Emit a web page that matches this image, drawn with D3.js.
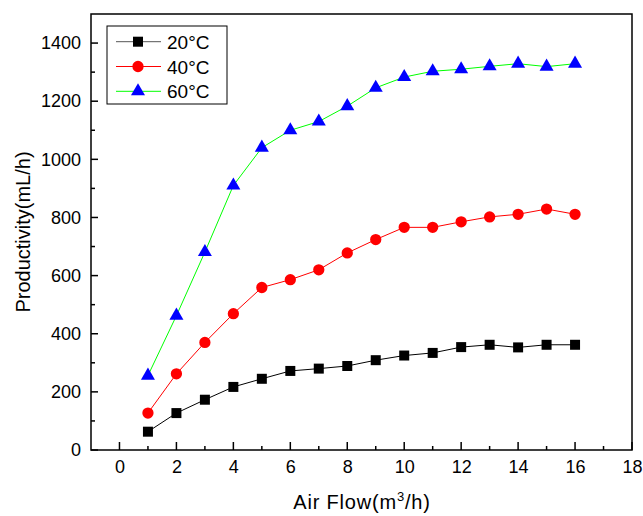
<!DOCTYPE html>
<html><head><meta charset="utf-8">
<script src="https://cdn.jsdelivr.net/npm/d3@7/dist/d3.min.js"></script>
<style>body{margin:0;background:#fff}svg{display:block}text{font-family:"Liberation Sans",Arial,sans-serif}</style>
</head><body><svg id="c" width="643" height="516"></svg>
<script>
const airFlow = [1,2,3,4,5,6,7,8,9,10,11,12,13,14,15,16];
const t20 = [63,127,173,217,245,272,280,289,309,325,334,354,362,353,362,362];
const t40 = [127,262,370,469,559,586,620,678,724,766,766,785,802,811,829,811];
const t60 = [256,462,681,910,1040,1100,1130,1183,1246,1283,1303,1310,1320,1329,1319,1329];
const seriesNames = ["20\u00b0C","40\u00b0C","60\u00b0C"];
const xTicks = [0,2,4,6,8,10,12,14,16,18];
const yTicks = [0,200,400,600,800,1000,1200,1400];

const series = [
  {name: seriesNames[0], values: t20, line: "#000000", fill: "#000000", shape: d3.symbolSquare, size: 100},
  {name: seriesNames[1], values: t40, line: "#ff0000", fill: "#ff0000", shape: d3.symbolCircle, size: 100},
  {name: seriesNames[2], values: t60, line: "#00ff00", fill: "#0000ff", shape: d3.symbolTriangle, size: 85}
];

const svg = d3.select("#c");
const L = 91, R = 632, T = 14, B = 450;
const x = d3.scaleLinear().domain([-1, 18]).range([L, R]);
const y = d3.scaleLinear().domain([0, 1500]).range([B, T]);

// frame
svg.append("rect").attr("x", L).attr("y", T).attr("width", R - L).attr("height", B - T)
  .attr("fill", "none").attr("stroke", "#000").attr("stroke-width", 1.5);

// x axis
const xMinor = d3.range(-1, 18.01, 1).filter(v => !xTicks.includes(v) && v > -1);
const gx = svg.append("g").attr("transform", `translate(0,${B})`);
gx.call(d3.axisBottom(x).tickValues(xTicks).tickSize(0).tickPadding(10.5).tickFormat(d3.format("d")))
  .call(g => g.select(".domain").remove());
gx.selectAll("text").attr("font-size", 18).attr("fill", "#000").attr("font-family", "Liberation Sans, Arial, sans-serif");
gx.selectAll(".xmaj").data(xTicks).join("line").attr("x1", d => x(d)).attr("x2", d => x(d)).attr("y1", 0).attr("y2", -8).attr("stroke", "#000").attr("stroke-width", 1.5);
gx.selectAll(".xmin").data(xMinor).join("line").attr("x1", d => x(d)).attr("x2", d => x(d)).attr("y1", 0).attr("y2", -4).attr("stroke", "#000").attr("stroke-width", 1.5);

// y axis
const yMinor = d3.range(100, 1500, 200);
const gy = svg.append("g").attr("transform", `translate(${L},0)`);
gy.call(d3.axisLeft(y).tickValues(yTicks).tickSize(0).tickPadding(10).tickFormat(d3.format("d")))
  .call(g => g.select(".domain").remove());
gy.selectAll("text").attr("font-size", 18).attr("fill", "#000").attr("font-family", "Liberation Sans, Arial, sans-serif");
gy.selectAll(".ymaj").data(yTicks).join("line").attr("y1", d => y(d)).attr("y2", d => y(d)).attr("x1", 0).attr("x2", 7).attr("stroke", "#000").attr("stroke-width", 1.5);
gy.selectAll(".ymin").data(yMinor).join("line").attr("y1", d => y(d)).attr("y2", d => y(d)).attr("x1", 0).attr("x2", 4).attr("stroke", "#000").attr("stroke-width", 1.5);

// axis titles
const xt = svg.append("text").attr("x", 362).attr("y", 509).attr("text-anchor", "middle").attr("font-size", 20).attr("letter-spacing", 0.8);
xt.append("tspan").text("Air Flow(m");
xt.append("tspan").text("3").attr("font-size", 13).attr("dy", -8);
xt.append("tspan").text("/h)").attr("dy", 8);
svg.append("text").attr("transform", `translate(30,232) rotate(-90)`).attr("text-anchor", "middle")
  .attr("font-size", 20).text("Productivity(mL/h)");

// series
const line = d3.line().x((d, i) => x(airFlow[i])).y(d => y(d));
series.forEach(s => {
  svg.append("path").datum(s.values).attr("d", line).attr("fill", "none").attr("stroke", s.line).attr("stroke-width", 1);
  svg.append("g").selectAll("path").data(s.values).join("path")
    .attr("transform", (d, i) => `translate(${x(airFlow[i])},${y(d)})`)
    .attr("d", d3.symbol().type(s.shape).size(s.size)).attr("fill", s.fill);
});

// legend
const lg = svg.append("g");
lg.append("rect").attr("x", 107).attr("y", 26).attr("width", 120).attr("height", 78)
  .attr("fill", "#fff").attr("stroke", "#000").attr("stroke-width", 1);
series.forEach((s, i) => {
  const cy = 41.7 + i * 24.8;
  lg.append("line").attr("x1", 116).attr("x2", 161).attr("y1", cy).attr("y2", cy).attr("stroke", i === 0 ? "#555" : s.line).attr("stroke-width", 1);
  lg.append("path").attr("transform", `translate(138,${cy})`).attr("d", d3.symbol().type(s.shape).size(s.size)).attr("fill", s.fill);
  lg.append("text").attr("x", 167).attr("y", cy + 7).attr("font-size", 19).text(s.name);
});
</script></body></html>
